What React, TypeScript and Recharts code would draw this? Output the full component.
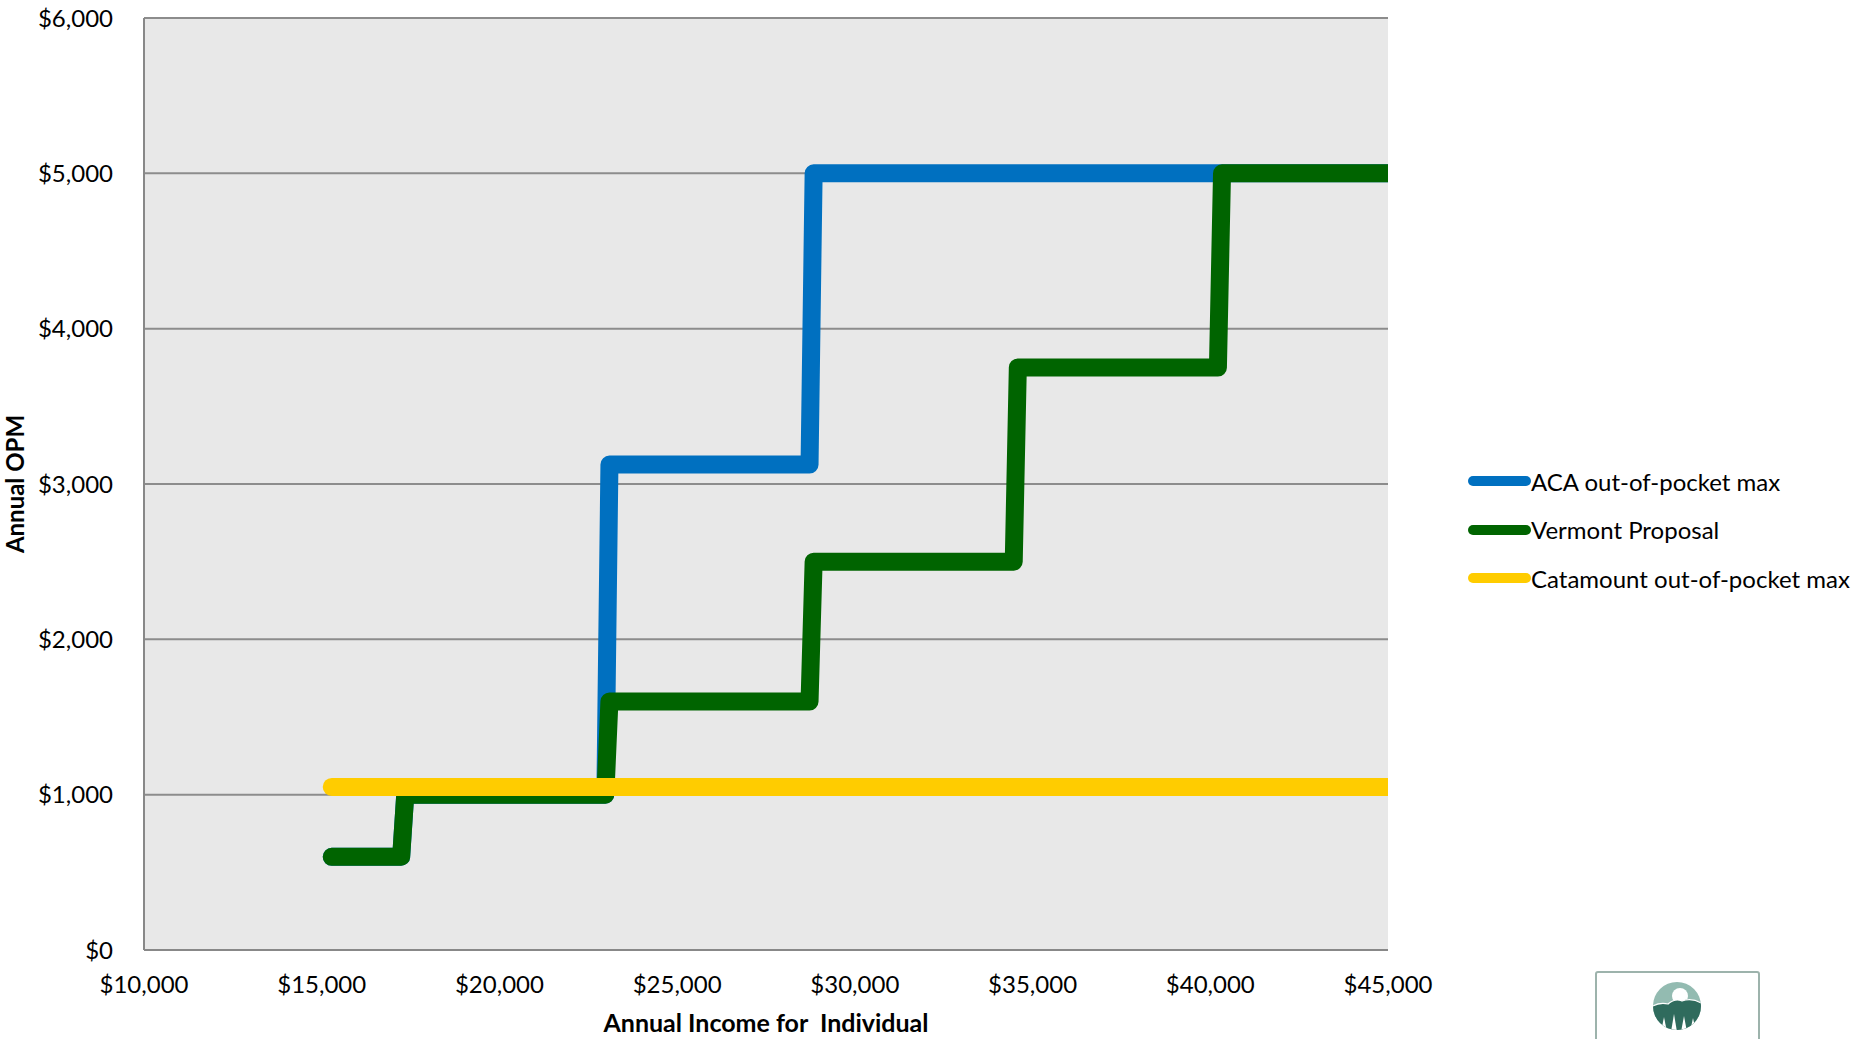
import React from 'react';
import { LineChart, Line, XAxis, YAxis, CartesianGrid, Label } from 'recharts';

// ---- data ----
const acaIncome = [15282, 17235, 17350, 22980, 23095, 28725, 28840, 45960];
const acaOpm = [600, 600, 1000, 1000, 3125, 3125, 5000, 5000];

const vermontIncome = [15282, 17235, 17350, 22980, 23095, 28725, 28840, 34470, 34585, 40215, 40330, 45960];
const vermontOpm = [600, 600, 1000, 1000, 1600, 1600, 2500, 2500, 3750, 3750, 5000, 5000];

const catamountIncome = [15282, 45960];
const catamountOpm = [1050, 1050];

const xTicks = [10000, 15000, 20000, 25000, 30000, 35000, 40000, 45000];
const yTicks = [0, 1000, 2000, 3000, 4000, 5000, 6000];

const seriesNames = ['ACA out-of-pocket max', 'Vermont Proposal', 'Catamount out-of-pocket max'];
const seriesColors = ['#0070C0', '#006400', '#FFCC00'];

const toData = (xs: number[], ys: number[]) => xs.map((income, i) => ({ income, opm: ys[i] }));
const acaData = toData(acaIncome, acaOpm);
const vermontData = toData(vermontIncome, vermontOpm);
const catamountData = toData(catamountIncome, catamountOpm);
const allData = [acaData, vermontData, catamountData];

const money = (v: number) => '$' + v.toLocaleString('en-US');

const FONT = 'Lato, "Open Sans", sans-serif';

function Logo() {
  return (
    <div style={{ position: 'absolute', left: 1595, top: 971, width: 166, height: 68, overflow: 'hidden' }}>
      <svg width={166} height={90}>
        <defs>
          <clipPath id="logoClip">
            <circle cx={82} cy={35} r={24} />
          </clipPath>
        </defs>
        <rect x={1} y={1} width={163} height={86} rx={2} fill="#fff" stroke="#9db3ac" strokeWidth={2} />
        <g clipPath="url(#logoClip)">
          <rect x={56} y={9} width={52} height={52} fill="#93bbb1" />
          <circle cx={85} cy={25} r={8} fill="#fff" />
          <path d="M56 36 Q64 31 73 33 Q80 27 87 30 Q97 26 108 33 L108 61 L56 61 Z" fill="#2f6b5d" stroke="#fff" strokeWidth={1.2} />
          <path d="M66 61 L69 46 L72 61 Z" fill="#fff" />
          <path d="M76 61 L79 43 L82 61 Z" fill="#fff" />
          <path d="M86 61 L89 45 L92 61 Z" fill="#fff" />
          <path d="M95 61 L98 47 L101 61 Z" fill="#fff" />
        </g>
      </svg>
    </div>
  );
}

function LegendBox() {
  return (
    <div style={{ position: 'absolute', left: 1468, top: 457, fontFamily: FONT, fontSize: 24, color: '#000' }}>
      {seriesNames.map((name, i) => (
        <div key={name} style={{ display: 'flex', alignItems: 'center', height: 48.5, whiteSpace: 'nowrap' }}>
          <svg width={63} height={12}>
            <line x1={5} y1={6} x2={58} y2={6} stroke={seriesColors[i]} strokeWidth={10} strokeLinecap="round" />
          </svg>
          <span>{name}</span>
        </div>
      ))}
    </div>
  );
}

export default function App() {
  return (
    <div style={{ position: 'absolute', left: 0, top: 0, width: 1860, height: 1039, overflow: 'hidden', background: '#fff' }}>
      <LineChart width={1860} height={1039} margin={{ top: 18, right: 472, bottom: 0, left: 0 }}>
        <CartesianGrid vertical={false} fill="#e8e8e8" stroke="#8c8c8c" strokeWidth={2} fillOpacity={1} />
        <XAxis
          dataKey="income"
          type="number"
          domain={[10000, 45000]}
          ticks={xTicks}
          allowDataOverflow
          height={89}
          tickFormatter={money}
          tickLine={false}
          tickSize={0}
          tickMargin={26}
          axisLine={{ stroke: '#888', strokeWidth: 2 }}
          tick={{ fill: '#000', fontSize: 24, fontFamily: FONT }}
          interval={0}
        >
          <Label
            value={'Annual Income for\u00A0 Individual'}
            position="insideBottom"
            offset={7}
            style={{ fontFamily: FONT, fontSize: 25, fontWeight: 700, fill: '#000' }}
          />
        </XAxis>
        <YAxis
          dataKey="opm"
          type="number"
          domain={[0, 6000]}
          ticks={yTicks}
          width={144}
          tickFormatter={money}
          tickLine={false}
          tickSize={0}
          tickMargin={31}
          axisLine={{ stroke: '#888', strokeWidth: 2 }}
          tick={{ fill: '#000', fontSize: 24, fontFamily: FONT }}
          interval={0}
        >
          <Label
            value="Annual OPM"
            angle={-90}
            position="insideLeft"
            offset={15}
            style={{ fontFamily: FONT, fontSize: 24, fontWeight: 700, fill: '#000', textAnchor: 'middle' }}
          />
        </YAxis>
        {allData.map((d, i) => (
          <Line
            key={seriesNames[i]}
            data={d}
            dataKey="opm"
            name={seriesNames[i]}
            type="linear"
            stroke={seriesColors[i]}
            strokeWidth={18}
            strokeLinecap="round"
            strokeLinejoin="round"
            dot={false}
            activeDot={false}
            isAnimationActive={false}
          />
        ))}
      </LineChart>
      <LegendBox />
      <Logo />
    </div>
  );
}
